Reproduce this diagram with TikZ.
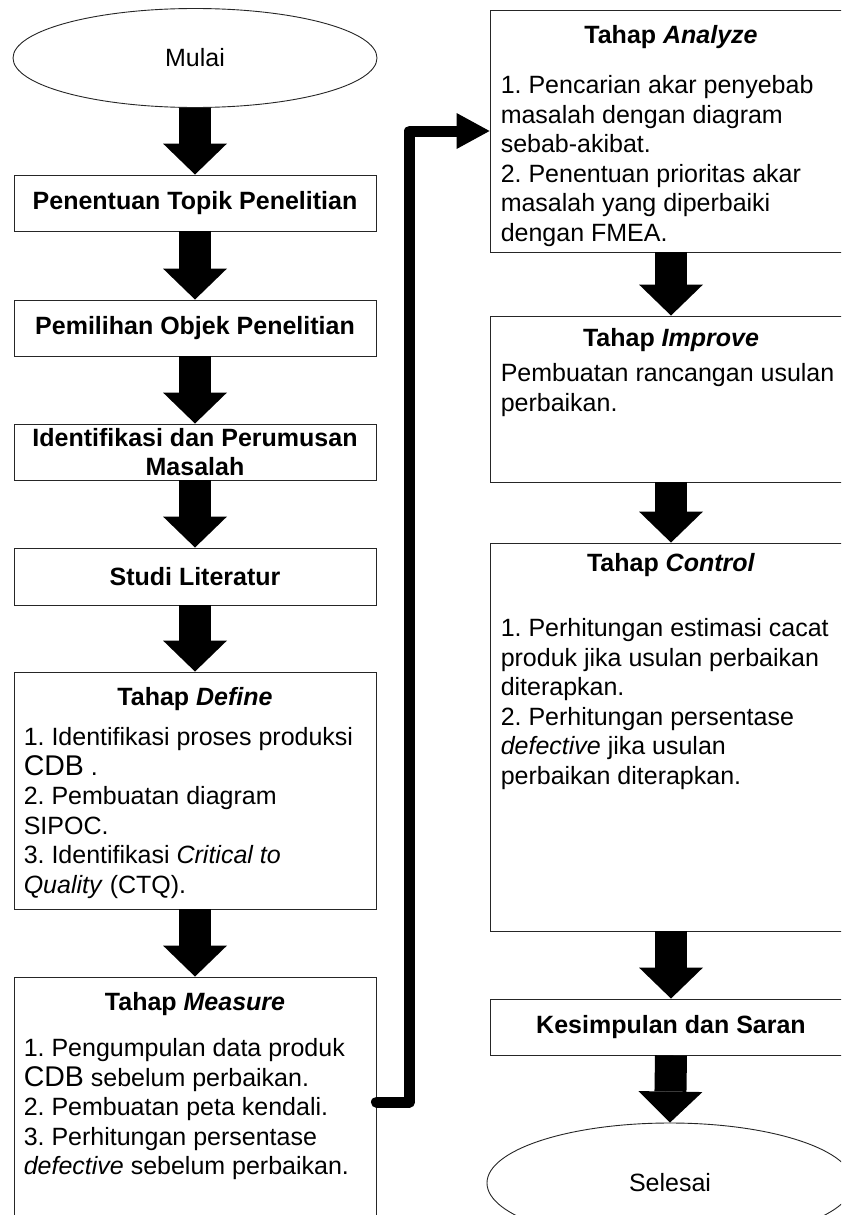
\documentclass[tikz,border=0pt]{standalone}
\usepackage{fontspec}
\setmainfont{Liberation Sans}
\frenchspacing
\usetikzlibrary{arrows.meta, calc, positioning, shapes.geometric}
\newcommand{\bigcdb}{{\fontsize{28.5}{29.5}\selectfont CDB}}
\tikzset{%
    box/.style={rectangle, draw=black!85, line width=0.9pt, fill=white, minimum width=362pt, inner sep=0pt},
    oval/.style={ellipse, draw=black!85, line width=0.9pt, fill=white, minimum width=364pt, inner sep=0pt},
    ttl/.style={inner sep=0pt, font=\fontsize{25}{29.5}\selectfont\bfseries, align=center},
    txt/.style={inner sep=0pt, font=\fontsize{25}{29.5}\selectfont, align=left},
    blk/.style={line width=32pt, -{Triangle[length=31pt, width=64pt, line width=0pt]}},
    elb/.style={line width=11pt, line cap=round, line join=round, -{Triangle[length=33pt, width=36pt, line width=0pt]}},
}

\begin{document}
\begin{tikzpicture}[x=1pt, y=-1pt]
    \useasboundingbox (0,0) rectangle (841,1215);
    \clip (0,0) rectangle (841,1215);
    % left column
    \node[oval, minimum height=99pt] (mulai) at (195,58) {\fontsize{25}{29.5}\selectfont Mulai};
    \node[box, minimum height=56pt] (topik) at (195,203) {};
    \node[ttl] at (topik) {Penentuan Topik Penelitian};
    \node[box, minimum height=56pt] (objek) at (195,328) {};
    \node[ttl] at (objek) {Pemilihan Objek Penelitian};
    \node[box, minimum height=56pt] (masalah) at (195,452) {};
    \node[ttl] at (masalah) {Identifikasi dan Perumusan\\Masalah};
    \node[box, minimum height=57pt] (studi) at (195,576.5) {};
    \node[ttl] at (studi) {Studi Literatur};
    \node[box, minimum height=237pt] (define) at (195,790.5) {};
    \node[ttl, below=16pt of define.north] (definettl) {Tahap \textit{Define}};
    \node[txt, below right=56pt and 10pt of define.north west] (definetxt) {1. Identifikasi proses produksi\\\bigcdb\ .\\2. Pembuatan diagram\\SIPOC.\\3. Identifikasi \textit{Critical to}\\\textit{Quality} (CTQ).};
    \node[box, minimum height=250pt] (measure) at (195,1102) {};
    \node[ttl, below=16pt of measure.north] (measurettl) {Tahap \textit{Measure}};
    \node[txt, below right=62pt and 10pt of measure.north west] (measuretxt) {1. Pengumpulan data produk\\\bigcdb\ sebelum perbaikan.\\2. Pembuatan peta kendali.\\3. Perhitungan persentase\\\textit{defective} sebelum perbaikan.};
    % right column
    \node[box, minimum height=242pt] (analyze) at (671,131) {};
    \node[ttl, below=16pt of analyze.north] (analyzettl) {Tahap \textit{Analyze}};
    \node[txt, below right=66pt and 11pt of analyze.north west] (analyzetxt) {1. Pencarian akar penyebab\\masalah dengan diagram\\sebab-akibat.\\2. Penentuan prioritas akar\\masalah yang diperbaiki\\dengan FMEA.};
    \node[box, minimum height=166pt] (improve) at (671,399) {};
    \node[ttl, below=13pt of improve.north] (improvettl) {Tahap \textit{Improve}};
    \node[txt, below right=48pt and 11pt of improve.north west] (improvetxt) {Pembuatan rancangan usulan\\perbaikan.};
    \node[box, minimum height=388pt] (control) at (671,737) {};
    \node[ttl, below=11pt of control.north] (controlttl) {Tahap \textit{Control}};
    \node[txt, below right=76pt and 11pt of control.north west] (controltxt) {1. Perhitungan estimasi cacat\\produk jika usulan perbaikan\\diterapkan.\\2. Perhitungan persentase\\\textit{defective} jika usulan\\perbaikan diterapkan.};
    \node[box, minimum height=56pt] (saran) at (671,1027) {};
    \node[ttl] at (saran) {Kesimpulan dan Saran};
    \node[oval, minimum width=366pt, minimum height=120pt] (selesai) at (670,1183) {\fontsize{25}{29.5}\selectfont Selesai};
    % arrows
    \draw[blk] (mulai.south) -- (topik.north);
    \draw[blk] (topik.south) -- (objek.north);
    \draw[blk] (objek.south) -- (masalah.north);
    \draw[blk] (masalah.south) -- (studi.north);
    \draw[blk] (studi.south) -- (define.north);
    \draw[blk] (define.south) -- (measure.north);
    \draw[elb] (measure.east) -- ++(33,0) |- (analyze.west);
    \draw[blk] (analyze.south) -- (improve.north);
    \draw[blk] (improve.south) -- (control.north);
    \draw[blk] (control.south) -- (saran.north);
    \draw[blk] (saran.south) -- (selesai.north);
\end{tikzpicture}
\end{document}
